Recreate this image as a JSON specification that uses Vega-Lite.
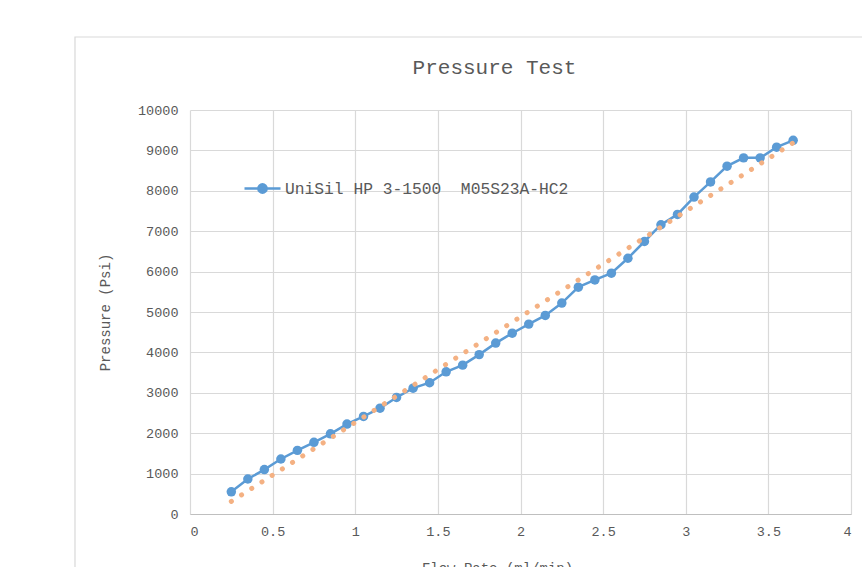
{
  "$schema": "https://vega.github.io/schema/vega-lite/v6.json",
  "width": 661,
  "height": 404,
  "autosize": {"type": "none"},
  "padding": {"left": 190, "top": 110, "right": 11, "bottom": 53},
  "background": "white",
  "config": {"view": {"stroke": null}, "font": "Liberation Mono"},
  "title": {"text": "Pressure Test", "fontSize": 21, "font": "Liberation Mono", "fontWeight": "normal", "color": "#595959", "dx": -26, "offset": -42},
  "datasets": {
    "measured": [
      {"flow": 0.25, "pressure": 548, "series": "UniSil HP 3-1500\u00a0 M05S23A-HC2"},
      {"flow": 0.35, "pressure": 866, "series": "UniSil HP 3-1500\u00a0 M05S23A-HC2"},
      {"flow": 0.45, "pressure": 1100, "series": "UniSil HP 3-1500\u00a0 M05S23A-HC2"},
      {"flow": 0.55, "pressure": 1361, "series": "UniSil HP 3-1500\u00a0 M05S23A-HC2"},
      {"flow": 0.65, "pressure": 1575, "series": "UniSil HP 3-1500\u00a0 M05S23A-HC2"},
      {"flow": 0.75, "pressure": 1775, "series": "UniSil HP 3-1500\u00a0 M05S23A-HC2"},
      {"flow": 0.85, "pressure": 1985, "series": "UniSil HP 3-1500\u00a0 M05S23A-HC2"},
      {"flow": 0.95, "pressure": 2225, "series": "UniSil HP 3-1500\u00a0 M05S23A-HC2"},
      {"flow": 1.05, "pressure": 2415, "series": "UniSil HP 3-1500\u00a0 M05S23A-HC2"},
      {"flow": 1.15, "pressure": 2620, "series": "UniSil HP 3-1500\u00a0 M05S23A-HC2"},
      {"flow": 1.25, "pressure": 2885, "series": "UniSil HP 3-1500\u00a0 M05S23A-HC2"},
      {"flow": 1.35, "pressure": 3115, "series": "UniSil HP 3-1500\u00a0 M05S23A-HC2"},
      {"flow": 1.45, "pressure": 3250, "series": "UniSil HP 3-1500\u00a0 M05S23A-HC2"},
      {"flow": 1.55, "pressure": 3520, "series": "UniSil HP 3-1500\u00a0 M05S23A-HC2"},
      {"flow": 1.65, "pressure": 3685, "series": "UniSil HP 3-1500\u00a0 M05S23A-HC2"},
      {"flow": 1.75, "pressure": 3945, "series": "UniSil HP 3-1500\u00a0 M05S23A-HC2"},
      {"flow": 1.85, "pressure": 4230, "series": "UniSil HP 3-1500\u00a0 M05S23A-HC2"},
      {"flow": 1.95, "pressure": 4475, "series": "UniSil HP 3-1500\u00a0 M05S23A-HC2"},
      {"flow": 2.05, "pressure": 4700, "series": "UniSil HP 3-1500\u00a0 M05S23A-HC2"},
      {"flow": 2.15, "pressure": 4915, "series": "UniSil HP 3-1500\u00a0 M05S23A-HC2"},
      {"flow": 2.25, "pressure": 5220, "series": "UniSil HP 3-1500\u00a0 M05S23A-HC2"},
      {"flow": 2.35, "pressure": 5615, "series": "UniSil HP 3-1500\u00a0 M05S23A-HC2"},
      {"flow": 2.45, "pressure": 5795, "series": "UniSil HP 3-1500\u00a0 M05S23A-HC2"},
      {"flow": 2.55, "pressure": 5960, "series": "UniSil HP 3-1500\u00a0 M05S23A-HC2"},
      {"flow": 2.65, "pressure": 6330, "series": "UniSil HP 3-1500\u00a0 M05S23A-HC2"},
      {"flow": 2.75, "pressure": 6745, "series": "UniSil HP 3-1500\u00a0 M05S23A-HC2"},
      {"flow": 2.85, "pressure": 7160, "series": "UniSil HP 3-1500\u00a0 M05S23A-HC2"},
      {"flow": 2.95, "pressure": 7415, "series": "UniSil HP 3-1500\u00a0 M05S23A-HC2"},
      {"flow": 3.05, "pressure": 7845, "series": "UniSil HP 3-1500\u00a0 M05S23A-HC2"},
      {"flow": 3.15, "pressure": 8220, "series": "UniSil HP 3-1500\u00a0 M05S23A-HC2"},
      {"flow": 3.25, "pressure": 8610, "series": "UniSil HP 3-1500\u00a0 M05S23A-HC2"},
      {"flow": 3.35, "pressure": 8815, "series": "UniSil HP 3-1500\u00a0 M05S23A-HC2"},
      {"flow": 3.45, "pressure": 8815, "series": "UniSil HP 3-1500\u00a0 M05S23A-HC2"},
      {"flow": 3.55, "pressure": 9080, "series": "UniSil HP 3-1500\u00a0 M05S23A-HC2"},
      {"flow": 3.65, "pressure": 9250, "series": "UniSil HP 3-1500\u00a0 M05S23A-HC2"}
    ],
    "trend": [
      {"flow": 0.25, "pressure": 310},
      {"flow": 3.65, "pressure": 9190}
    ]
  },
  "layer": [
    {
      "data": {"values": [{}]},
      "mark": {"type": "rect", "fill": null, "fillOpacity": 0, "stroke": "#D9D9D9", "strokeWidth": 1.2},
      "encoding": {
        "x": {"datum": -0.696, "type": "quantitative", "scale": {"domain": [0, 4], "nice": false, "zero": false}},
        "x2": {"datum": 4.6},
        "y": {"datum": 11807, "type": "quantitative", "scale": {"domain": [0, 10000], "nice": false}},
        "y2": {"datum": -3000}
      }
    },
    {
      "data": {"name": "measured"},
      "mark": {"type": "line", "strokeWidth": 2.5, "point": {"filled": true, "size": 90}},
      "encoding": {
        "x": {
          "field": "flow", "type": "quantitative",
          "scale": {"domain": [0, 4], "nice": false, "zero": false},
          "axis": {
            "title": "Flow Rate (ml/min)",
            "values": [0, 0.5, 1, 1.5, 2, 2.5, 3, 3.5, 4],
            "labelExpr": "'' + datum.value",
            "grid": true, "gridColor": "#D9D9D9", "gridWidth": 1.2,
            "ticks": false, "domainColor": "#BFBFBF", "domainWidth": 1.2,
            "labelColor": "#595959", "labelFontSize": 13.5, "labelPadding": 10,
            "labelFont": "Liberation Mono",
            "titleFont": "Liberation Mono", "titleFontSize": 14, "titleFontWeight": "normal",
            "titleColor": "#595959", "titlePadding": 24, "titleX": 307
          }
        },
        "y": {
          "field": "pressure", "type": "quantitative",
          "scale": {"domain": [0, 10000], "nice": false},
          "axis": {
            "title": "Pressure (Psi)",
            "values": [0, 1000, 2000, 3000, 4000, 5000, 6000, 7000, 8000, 9000, 10000],
            "format": "d",
            "grid": true, "gridColor": "#D9D9D9", "gridWidth": 1.2,
            "ticks": false, "domain": false,
            "labelColor": "#595959", "labelFontSize": 13.5, "labelPadding": 12,
            "labelFont": "Liberation Mono",
            "titleFont": "Liberation Mono", "titleFontSize": 14, "titleFontWeight": "normal",
            "titleColor": "#595959", "titlePadding": 25
          }
        },
        "color": {
          "field": "series", "type": "nominal",
          "scale": {"range": ["#5B9BD5"]},
          "legend": {
            "orient": "none", "legendX": 53, "legendY": 59,
            "title": null, "padding": 0,
            "symbolType": "M-1,0L1,0M-0.23,0A0.23,0.23,0,1,0,0.23,0A0.23,0.23,0,1,0,-0.23,0",
            "symbolSize": 1296, "symbolStrokeWidth": 2.5,
            "labelFont": "Liberation Mono", "labelFontSize": 16.3, "labelColor": "#595959",
            "labelOffset": 3, "labelLimit": 500,
            "encode": {"symbols": {"update": {"fill": {"value": "#5B9BD5"}, "stroke": {"value": "#5B9BD5"}, "opacity": {"value": 1}}}}
          }
        }
      }
    },
    {
      "data": {"name": "trend"},
      "mark": {"type": "line", "color": "#F4B183", "strokeWidth": 5, "strokeCap": "round", "strokeDash": [0.1, 12]},
      "encoding": {
        "x": {"field": "flow", "type": "quantitative"},
        "y": {"field": "pressure", "type": "quantitative"}
      }
    }
  ]
}
